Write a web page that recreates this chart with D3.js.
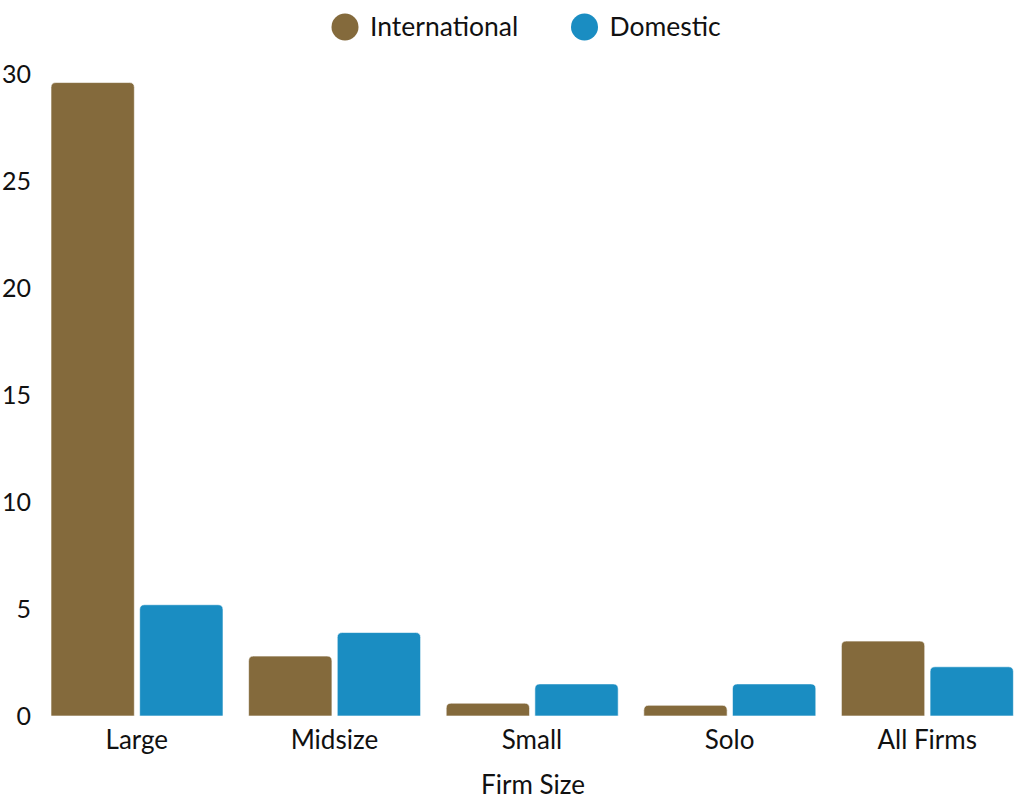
<!DOCTYPE html>
<html><head><meta charset="utf-8">
<script src="https://cdn.jsdelivr.net/npm/d3@7"></script>
<style>html,body{margin:0;padding:0;background:#fff;}svg{display:block;font-family:Lato,sans-serif;}</style>
</head><body>
<svg id="c" width="1016" height="799"></svg>
<script>
const categories = ["Large","Midsize","Small","Solo","All Firms"];
const seriesNames = ["International","Domestic"];
const international = [29.6, 2.8, 0.6, 0.5, 3.5];
const domestic = [5.2, 3.9, 1.5, 1.5, 2.3];
const yTicks = [0,5,10,15,20,25,30];
const colors = ["#846a3c","#1a8dc2"];

const svg = d3.select("#c");
const data = categories.map((c,i)=>({cat:c, vals:[international[i], domestic[i]]}));

const x0 = d3.scaleBand().domain(categories).range([38, 1026]).padding(0);
const x1 = d3.scaleBand().domain(seriesNames).range([13, 185]).paddingInner(0.06);
const y = d3.scaleLinear().domain([0,30]).range([716, 74]);

// y axis labels
const yAxis = svg.append("g").attr("transform","translate(31,0)")
  .call(d3.axisLeft(y).tickValues(yTicks).tickSize(0).tickPadding(0));
yAxis.select(".domain").remove();
yAxis.selectAll("text").attr("font-size",25).attr("fill","#111").attr("font-family","Lato");

// bars with rounded top corners
function barPath(x, yTop, w, yBase, r){
  const h = yBase - yTop;
  r = Math.min(r, h, w/2);
  return `M${x},${yBase}V${yTop+r}Q${x},${yTop} ${x+r},${yTop}H${x+w-r}Q${x+w},${yTop} ${x+w},${yTop+r}V${yBase}Z`;
}
const g = svg.append("g");
data.forEach(d=>{
  d.vals.forEach((v,j)=>{
    const xx = x0(d.cat) + x1(seriesNames[j]);
    g.append("path")
      .attr("d", barPath(xx, y(v), x1.bandwidth(), y(0), 5))
      .attr("fill", colors[j])
      .attr("stroke","#fff").attr("stroke-width",1).attr("stroke-opacity",0.6);
  });
});

// x axis labels
const xAxis = svg.append("g").attr("transform","translate(0,716)")
  .call(d3.axisBottom(x0).tickSize(0).tickPadding(15));
xAxis.select(".domain").remove();
xAxis.selectAll("text").attr("font-size",26).attr("fill","#111").attr("font-family","Lato");

svg.append("text").attr("x",533).attr("y",794).attr("text-anchor","middle")
  .attr("font-size",26).attr("fill","#111").text("Firm Size");

// legend
const legendX = [345, 584.5];
seriesNames.forEach((s,i)=>{
  svg.append("circle").attr("cx",legendX[i]).attr("cy",27).attr("r",13.5).attr("fill",colors[i]);
  svg.append("text").attr("x",legendX[i]+25).attr("y",27).attr("dy","0.35em")
    .attr("font-size",26.5).attr("fill","#111").text(s);
});
</script>
</body></html>
